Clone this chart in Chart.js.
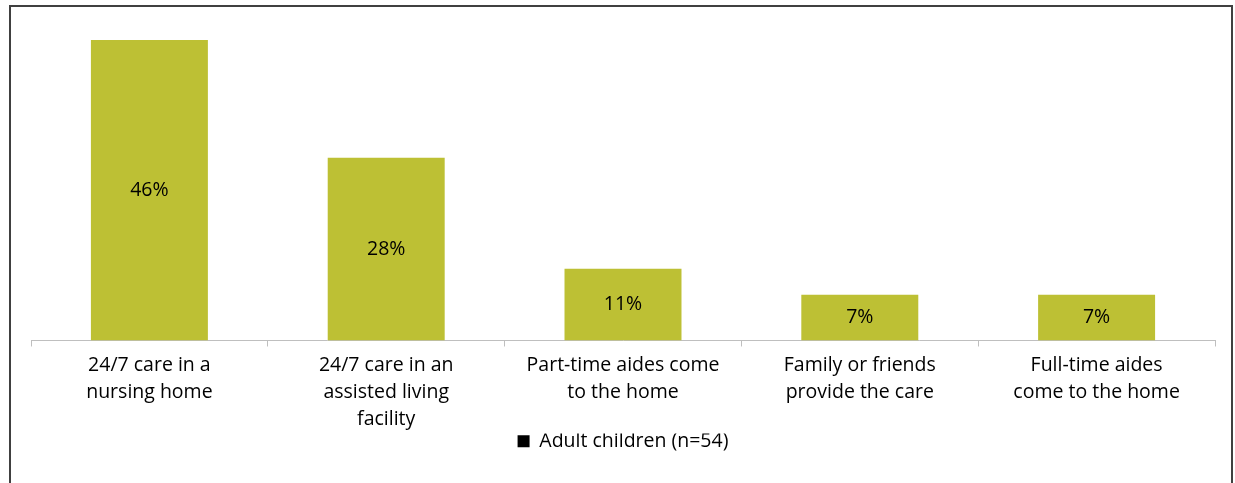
<!DOCTYPE html>
<html>
<head>
<meta charset="utf-8">
<script src="https://cdn.jsdelivr.net/npm/chart.js@4.4.1/dist/chart.umd.min.js"></script>
<style>
  html, body { margin: 0; padding: 0; background: #fff; overflow: hidden; }
  #wrap { position: absolute; left: 0; top: 0; width: 1235px; height: 483px; }
  #frame { position: absolute; left: 9px; top: 5px; width: 1220px; height: 520px; border: 2px solid #404040; pointer-events: none; }
</style>
</head>
<body>
<div id="wrap"><canvas id="careChart" width="1235" height="483"></canvas></div>
<div id="frame"></div>
<script>
// ── data ───────────────────────────────
const categories = [
    ['24/7 care in a', 'nursing home'],
    ['24/7 care in an', 'assisted living', 'facility'],
    ['Part-time aides come', 'to the home'],
    ['Family or friends', 'provide the care'],
    ['Full-time aides', 'come to the home']
];
const adultChildren = [46, 28, 11, 7, 7];
const seriesLabel = 'Adult children (n=54)';

const barColor = '#bdc034';
const fontFamily = "'Open Sans', 'Noto Sans', sans-serif";

// draws the % values in the middle of each bar
const barLabels = {
    id: 'barLabels',
    afterDatasetsDraw(chart) {
        const ctx = chart.ctx;
        ctx.save();
        ctx.font = `19.5px ${fontFamily}`;
        ctx.fillStyle = '#000';
        ctx.textAlign = 'center';
        ctx.textBaseline = 'middle';
        chart.getDatasetMeta(0).data.forEach((bar, i) => {
            const mid = (bar.y + bar.base) / 2;
            ctx.fillText(adultChildren[i] + '%', bar.x, mid);
        });
        ctx.restore();
    }
};

new Chart(document.getElementById('careChart'), {
    type: 'bar',
    data: {
        labels: categories,
        datasets: [{
            label: seriesLabel,
            data: adultChildren,
            backgroundColor: barColor,
            categoryPercentage: 1,
            barPercentage: 0.494
        }]
    },
    options: {
        responsive: false,
        animation: false,
        layout: { padding: { left: 31, right: 20, top: 14, bottom: 22 } },
        plugins: {
            legend: {
                position: 'bottom',
                labels: {
                    color: '#000',
                    font: { family: fontFamily, size: 19.5 },
                    boxWidth: 12,
                    boxHeight: 12,
                    padding: -2,
                    generateLabels: () => [{
                        text: seriesLabel,
                        fillStyle: '#000',
                        strokeStyle: '#000',
                        lineWidth: 0,
                        datasetIndex: 0
                    }]
                }
            },
            tooltip: { enabled: false }
        },
        scales: {
            x: {
                afterFit: scale => { scale.height -= 4; },
                grid: { offset: true, drawOnChartArea: false, tickLength: 6, color: '#bfbfbf' },
                border: { color: '#bfbfbf' },
                ticks: {
                    color: '#000',
                    maxRotation: 0,
                    autoSkip: false,
                    padding: 5,
                    font: { family: fontFamily, size: 19.5, lineHeight: 1.385 }
                }
            },
            y: { display: false, min: 0, max: 50 }
        }
    },
    plugins: [barLabels]
});
</script>
</body>
</html>
